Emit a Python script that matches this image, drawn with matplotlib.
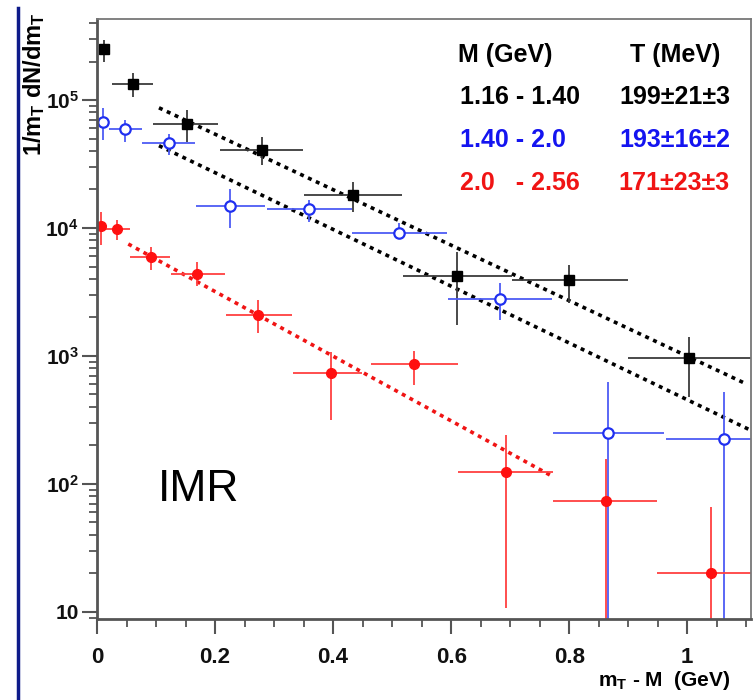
import numpy as np
import matplotlib
matplotlib.use("Agg")
import matplotlib.pyplot as plt
from matplotlib.lines import Line2D
from matplotlib.ticker import FixedLocator, LogLocator, MultipleLocator, NullFormatter

plt.rcParams["font.family"] = ["Liberation Sans", "DejaVu Sans"]
plt.rcParams["mathtext.fontset"] = "custom"
plt.rcParams["mathtext.rm"] = "Liberation Sans"
plt.rcParams["mathtext.it"] = "Liberation Sans"
plt.rcParams["mathtext.bf"] = "Liberation Sans:bold"

# --- data ---
# black squares, M 1.16 - 1.40 GeV
blk_x = [0.012, 0.061, 0.153, 0.279, 0.433, 0.610, 0.800, 1.003]
blk_y = [2.5e5, 1.33e5, 6.5e4, 4.1e4, 1.8e4, 4.2e3, 3.9e3, 960]
blk_xlo = [0.012, 0.025, 0.095, 0.208, 0.351, 0.519, 0.703, 0.900]
blk_xhi = [0.012, 0.095, 0.205, 0.349, 0.517, 0.703, 0.900, 1.200]
blk_ylo = [2.0e5, 1.05e5, 4.7e4, 3.1e4, 1.33e4, 1.74e3, 2.6e3, 480]
blk_yhi = [2.95e5, 1.63e5, 8.3e4, 5.1e4, 2.3e4, 6.5e3, 5.1e3, 1.41e3]

# blue open circles, M 1.40 - 2.0 GeV
blu_x = [0.010, 0.047, 0.122, 0.225, 0.359, 0.512, 0.683, 0.866, 1.063]
blu_y = [6.7e4, 5.9e4, 4.6e4, 1.49e4, 1.4e4, 9.1e3, 2.8e3, 250, 223]
blu_xlo = [0.010, 0.020, 0.076, 0.167, 0.288, 0.432, 0.595, 0.773, 0.964]
blu_xhi = [0.010, 0.076, 0.166, 0.285, 0.432, 0.593, 0.771, 0.961, 1.200]
blu_ylo = [4.9e4, 4.7e4, 3.7e4, 1.0e4, 1.12e4, 8.3e3, 1.9e3, 1, 1]
blu_yhi = [8.7e4, 7.0e4, 5.4e4, 2.0e4, 1.65e4, 1.1e4, 3.7e3, 630, 525]

# red filled circles, M 2.0 - 2.56 GeV
red_x = [0.006, 0.034, 0.091, 0.170, 0.273, 0.397, 0.537, 0.693, 0.863, 1.041]
red_y = [1.03e4, 9.8e3, 5.9e3, 4.4e3, 2.1e3, 730, 860, 124, 74, 20]
red_xlo = [0.006, 0.010, 0.056, 0.125, 0.218, 0.332, 0.464, 0.612, 0.773, 0.949]
red_xhi = [0.006, 0.056, 0.124, 0.217, 0.331, 0.449, 0.612, 0.773, 0.949, 1.200]
red_ylo = [7.4e3, 8.1e3, 4.7e3, 3.5e3, 1.5e3, 316, 590, 10.7, 1, 1]
red_yhi = [1.33e4, 1.15e4, 7.1e3, 5.4e3, 2.75e3, 1.07e3, 1.1e3, 240, 158, 66]

# exponential fits (end points)
fit_blk_x = [0.105, 1.095]
fit_blk_y = [8.7e4, 620]
fit_blu_x = [0.105, 1.108]
fit_blu_y = [4.4e4, 262]
fit_red_x = [0.053, 0.768]
fit_red_y = [7.5e3, 117]

legend_M = ["1.16 - 1.40", "1.40 - 2.0", "2.0   - 2.56"]
legend_T = ["199\u00b121\u00b13", "193\u00b116\u00b12", "171\u00b123\u00b13"]

BLK_BAR = "#3a3a3a"
BLU_BAR = "#4d5cf5"
RED_BAR = "#ff4040"
BLU_TXT = "#1414f0"
RED_TXT = "#f01414"


def asym(v, lo, hi):
    v = np.asarray(v)
    return [v - np.asarray(lo), np.asarray(hi) - v]


fig = plt.figure(figsize=(7.53, 7.0), dpi=100)
ax = fig.add_axes([97 / 753, 1 - 619 / 700, 654 / 753, 600 / 700])

ax.set_yscale("log")
ax.set_xlim(0, 1.108)
ax.set_ylim(8.8, 4.3e5)

# fit lines underneath the points
ax.plot(fit_blk_x, fit_blk_y, color="black", lw=2.6, ls=(0, (1.1, 1.3)))
ax.plot(fit_blu_x, fit_blu_y, color="black", lw=2.6, ls=(0, (1.1, 1.3)))
ax.plot(fit_red_x, fit_red_y, color=RED_TXT, lw=2.6, ls=(0, (1.1, 1.3)))

ax.errorbar(blk_x, blk_y, xerr=asym(blk_x, blk_xlo, blk_xhi),
            yerr=asym(blk_y, blk_ylo, blk_yhi), fmt="s", ms=6.5,
            mfc="black", mec="black", ecolor=BLK_BAR, elinewidth=1.3, capsize=0)
ax.errorbar(blu_x, blu_y, xerr=asym(blu_x, blu_xlo, blu_xhi),
            yerr=asym(blu_y, blu_ylo, blu_yhi), fmt="o", ms=7.5,
            mfc="white", mec="#2030f0", mew=1.6, ecolor=BLU_BAR,
            elinewidth=1.3, capsize=0)
ax.errorbar(red_x, red_y, xerr=asym(red_x, red_xlo, red_xhi),
            yerr=asym(red_y, red_ylo, red_yhi), fmt="o", ms=7,
            mfc="#ff1010", mec="#ff1010", ecolor=RED_BAR, elinewidth=1.3,
            capsize=0)

# axes cosmetics
ax.xaxis.set_minor_locator(MultipleLocator(0.05))
ax.set_xticks([0, 0.2, 0.4, 0.6, 0.8, 1.0])
ax.set_xticklabels(["0", "0.2", "0.4", "0.6", "0.8", "1"])
ax.yaxis.set_major_locator(FixedLocator([10, 100, 1e3, 1e4, 1e5]))
ax.set_yticklabels(["10", r"$\mathbf{10^{2}}$", r"$\mathbf{10^{3}}$",
                    r"$\mathbf{10^{4}}$", r"$\mathbf{10^{5}}$"])
ax.yaxis.set_minor_locator(LogLocator(base=10, subs=np.arange(2, 10)))
ax.yaxis.set_minor_formatter(NullFormatter())

ax.tick_params(which="major", direction="out", length=11, width=1.5,
               color="#555555", labelsize=15)
ax.tick_params(axis="x", which="major", labelsize=16, pad=9)
ax.tick_params(axis="y", which="major", pad=2)
ax.tick_params(which="minor", direction="out", length=6, width=1.3,
               color="#555555")
for lab in ax.get_xticklabels() + ax.get_yticklabels():
    lab.set_fontweight("bold")
    lab.set_color("#111111")

ax.spines["left"].set_color("#555555")
ax.spines["bottom"].set_color("#555555")
ax.spines["left"].set_linewidth(2)
ax.spines["bottom"].set_linewidth(2)
ax.spines["top"].set_color("#777777")
ax.spines["right"].set_color("#777777")
ax.spines["top"].set_linewidth(1.3)
ax.spines["right"].set_linewidth(1.3)

# legend-like table
fig.text(458 / 753, 1 - 55 / 700, "M (GeV)", fontsize=18, fontweight="bold",
         ha="left", va="center")
fig.text(720 / 753, 1 - 55 / 700, "T (MeV)", fontsize=18, fontweight="bold",
         ha="right", va="center")
for i, (m, t, c) in enumerate(zip(legend_M, legend_T, ["black", BLU_TXT, RED_TXT])):
    yy = 1 - (97 + 43 * i) / 700
    fig.text(460 / 753, yy, m, fontsize=18, fontweight="bold", color=c,
             ha="left", va="center")
    fig.text(730 / 753, yy, t, fontsize=18, fontweight="bold", color=c,
             ha="right", va="center")

ax.text(0.103, 90, "IMR", fontsize=32, ha="left", va="center")

# axis titles
fig.text(34 / 753, 1 - 12 / 700, r"$\mathbf{1/m_T\ dN/dm_T}$", rotation=90,
         fontsize=17, ha="center", va="top")
fig.text(730 / 753, 1 - 680 / 700, r"$\mathbf{m_T}$ - M  (GeV)",
         fontsize=15, fontweight="bold", ha="right", va="center")

# slide border on the left
fig.add_artist(Line2D([18 / 753, 18 / 753], [0, 1 - 8 / 700],
                      transform=fig.transFigure, color="#0d1a8a", lw=2.5))

fig.savefig("out.png", dpi=100)
